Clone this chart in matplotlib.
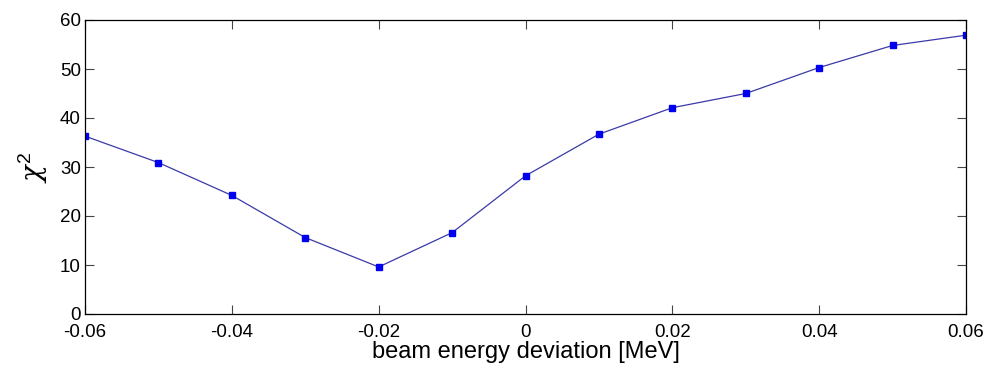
import matplotlib
matplotlib.use("Agg")
import matplotlib.pyplot as plt

x_vals = [-0.06, -0.05, -0.04, -0.03, -0.02, -0.01, 0.0, 0.01, 0.02, 0.03, 0.04, 0.05, 0.06]
chi2_vals = [36.3, 30.9, 24.2, 15.6, 9.6, 16.6, 28.2, 36.7, 42.1, 45.0, 50.3, 54.8, 56.9]
x_ticks = [-0.06, -0.04, -0.02, 0, 0.02, 0.04, 0.06]
x_ticklabels = ["-0.06", "-0.04", "-0.02", "0", "0.02", "0.04", "0.06"]
y_ticks = [0, 10, 20, 30, 40, 50, 60]

plt.rcParams['font.family'] = ['Liberation Sans', 'DejaVu Sans']
plt.rcParams['mathtext.fontset'] = 'custom'
plt.rcParams['mathtext.rm'] = 'Liberation Sans'
plt.rcParams['mathtext.it'] = 'DejaVu Serif:italic'

fig = plt.figure(figsize=(9.88, 3.72), dpi=100)
ax = fig.add_axes([85/988, 58/372, 881/988, 294/372])
ax.plot(x_vals, chi2_vals, color='#3a3aa8', lw=0.9, marker='s', ms=4.6,
        mfc='#0000ee', mec='#0000ee')
ax.set_xlim(-0.06, 0.06)
ax.set_ylim(0, 60)
ax.set_xticks(x_ticks)
ax.set_xticklabels(x_ticklabels)
ax.set_yticks(y_ticks)
ax.tick_params(direction='in', length=6.5, width=0.8, top=True, right=True,
               labelsize=13.5, color='#444444')
ax.tick_params(axis='x', pad=7)
ax.tick_params(axis='y', pad=3)
for s in ax.spines.values():
    s.set_linewidth(0.9)
ax.set_xlabel('beam energy deviation [MeV]', fontsize=17, labelpad=0)
ax.set_ylabel(r'$\chi^{\mathrm{2}}$', fontsize=20, labelpad=7)
fig.savefig('out.png', dpi=100)
